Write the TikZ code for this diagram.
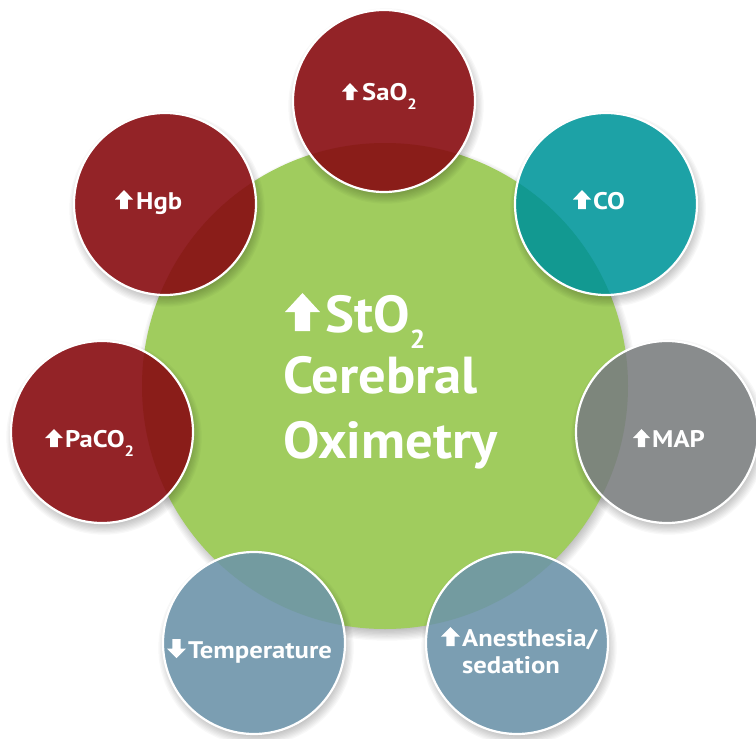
\documentclass[tikz,border=0pt]{standalone}
\usepackage{fontspec}
\setmainfont{PT Sans}
\newfontfamily\titlefont{PT Sans}[FakeStretch=1.05]
\newfontfamily\labelfont{PT Sans}[FakeStretch=1.11]
\definecolor{hubgreen}{RGB}{160,204,94}
\definecolor{wine}{RGB}{147,35,39}
\definecolor{wineov}{RGB}{138,29,25}
\definecolor{teal}{RGB}{29,162,166}
\definecolor{tealov}{RGB}{18,153,145}
\definecolor{slate}{RGB}{137,140,141}
\definecolor{slateov}{RGB}{125,134,124}
\definecolor{steel}{RGB}{123,158,178}
\definecolor{steelov}{RGB}{115,155,160}
\newcommand\subtwo[2]{\raisebox{-#1pt}{\fontsize{#2}{#2}\selectfont 2}}
% soft drop shadow under a disc: centre x, centre y, radius
\newcommand\discshadow[3]{%
  \foreach \k in {0,...,9}{%
    \fill[black,opacity=0.028] ({#1+2},{#2+5}) circle ({#3-5+1.3*\k pt});}}
% satellite disc: name, x, y, fill, tint where it lies over the hub
\newcommand\satdisc[5]{%
  \discshadow{#2}{#3}{91}
  \node[satnode,fill=#4] (#1) at (#2,#3) {};
  \begin{scope}
    \clip (#2,#3) circle (91pt);
    \fill[#5] (hub.center) circle (243pt);
  \end{scope}
  \draw[white,line width=2.2pt] (#1.center) circle (91pt);}
\begin{document}
\begin{tikzpicture}[x=1pt,y=-1pt,
  satnode/.style={circle,minimum size=182pt,inner sep=0pt},
  lbl/.style={text=white,font=\labelfont\fontsize{24}{28}\selectfont\bfseries,inner sep=0pt,anchor=base west},
  title/.style={text=white,font=\titlefont\fontsize{52}{60}\selectfont\bfseries,inner sep=0pt,anchor=base west},
  uparrow/.pic={\fill[white] (0.28,0)--(0.28,-0.5)--(0,-0.5)--(0.5,-1)--(1,-0.5)--(0.72,-0.5)--(0.72,0)--cycle;}]
\fill[white] (0,0) rectangle (756,739);
\useasboundingbox (0,0) rectangle (756,739);

% central hub
\discshadow{385}{386}{243}
\node[circle,minimum size=486pt,inner sep=0pt,fill=hubgreen] (hub) at (385,386) {};

% satellites
\satdisc{sao}{384}{101}{wine}{wineov}
\satdisc{hgb}{165}{204}{wine}{wineov}
\satdisc{co}{606}{204}{teal}{tealov}
\satdisc{map}{667}{432}{slate}{slateov}
\satdisc{paco}{102}{432}{wine}{wineov}
\satdisc{temp}{254}{643}{steel}{steelov}
\satdisc{anes}{517}{643}{steel}{steelov}

% hub title
\pic[xscale=35,yscale=38] at (285,331) {uparrow};
\node[title] (t1) at (325,332) {StO\subtwo{16}{26}};
\node[title] (t2) at (283,393) {Cerebral};
\node[title] (t3) at (283,458) {Oximetry};

% satellite labels
\pic[xscale=16,yscale=17] at (342,100) {uparrow};
\node[lbl] (lsao) at (362,100) {SaO\subtwo{9}{15}};
\pic[xscale=18,yscale=19] at (115,209) {uparrow};
\node[lbl] (lhgb) at (136,209) {Hgb};
\pic[xscale=18,yscale=19] at (573,209) {uparrow};
\node[lbl] (lco) at (593,209) {CO};
\pic[xscale=17,yscale=18] at (633,447) {uparrow};
\node[lbl] (lmap) at (652,447) {MAP};
\pic[xscale=18,yscale=18] at (45,447) {uparrow};
\node[lbl] (lpaco) at (65,447) {PaCO\subtwo{9}{15}};
\pic[xscale=19,yscale=-19] at (167,639) {uparrow};
\node[lbl] (ltemp) at (188,658) {Temperature};
\pic[xscale=19,yscale=19] at (441,646) {uparrow};
\node[lbl] (lanes) at (462,646) {Anesthesia/};
\node[lbl] (lsed) at (462,673) {sedation};
\end{tikzpicture}
\end{document}
